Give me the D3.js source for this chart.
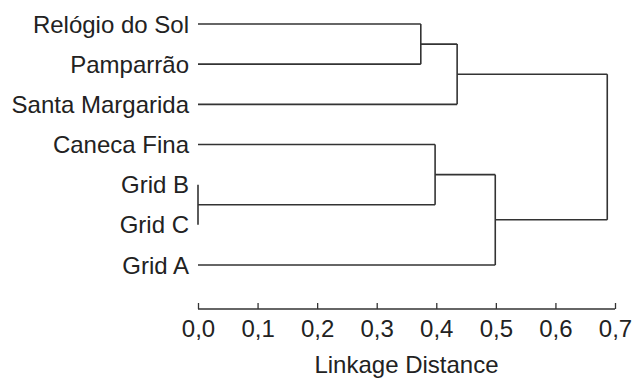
<!DOCTYPE html>
<html>
<head>
<meta charset="utf-8">
<script src="https://cdn.jsdelivr.net/npm/d3@7"></script>
<style>
  html, body { margin: 0; padding: 0; background: #fff; }
  svg { display: block; }
</style>
</head>
<body>
<svg id="chart" width="635" height="378"></svg>
<script>
// Leaves, top to bottom
const leaves = ["Relógio do Sol", "Pamparrão", "Santa Margarida", "Caneca Fina", "Grid B", "Grid C", "Grid A"];
// Merge steps (children refer to leaf names or previous cluster ids)
const clusterIds = ["k1", "k2", "k3", "k4", "k5", "root"];
const clusterLeft = ["Grid B", "Relógio do Sol", "Caneca Fina", "k2", "k3", "k4"];
const clusterRight = ["Grid C", "Pamparrão", "k1", "Santa Margarida", "Grid A", "k5"];
const linkageDistance = [0.0, 0.374, 0.398, 0.435, 0.499, 0.687];
const tickValues = [0, 0.1, 0.2, 0.3, 0.4, 0.5, 0.6, 0.7];
const axisTitle = "Linkage Distance";

const FONT = "'Liberation Sans', Arial, Helvetica, sans-serif";
const FS = 24;
const LINE = "#333";
const TEXT = "#222";

// Build hierarchy
const nodes = {};
leaves.forEach(n => nodes[n] = { name: n, height: 0, children: null });
clusterIds.forEach((id, i) => {
  nodes[id] = { name: id, height: linkageDistance[i], children: [nodes[clusterLeft[i]], nodes[clusterRight[i]]] };
});
const root = d3.hierarchy(nodes["root"]);

const x = d3.scaleLinear().domain([0, 0.7]).range([198, 615]);
const y = d3.scalePoint().domain(leaves).range([24, 265]);

// assign positions
root.eachAfter(d => {
  d.px = x(d.data.height);
  if (!d.children) d.py = y(d.data.name);
  else d.py = d3.mean(d.children, c => c.py);
});

const svg = d3.select("#chart");
const g = svg.append("g")
  .attr("fill", "none")
  .attr("stroke", LINE)
  .attr("stroke-width", 1.6);

root.each(d => {
  if (!d.children) return;
  const ys = d.children.map(c => c.py);
  g.append("line")
    .attr("x1", d.px).attr("x2", d.px)
    .attr("y1", d3.min(ys)).attr("y2", d3.max(ys));
  d.children.forEach(c => {
    g.append("line")
      .attr("x1", c.px).attr("x2", d.px)
      .attr("y1", c.py).attr("y2", c.py);
  });
});

// Leaf labels
svg.append("g").selectAll("text")
  .data(leaves)
  .join("text")
  .attr("x", 189)
  .attr("y", d => y(d))
  .attr("dy", "0.36em")
  .attr("text-anchor", "end")
  .attr("font-family", FONT)
  .attr("font-size", FS)
  .attr("fill", TEXT)
  .text(d => d);

// Axis
const fmt = d3.format(".1f");
const axis = d3.axisBottom(x)
  .tickValues(tickValues)
  .tickSize(-6)
  .tickPadding(10)
  .tickFormat(v => fmt(v).replace(".", ","));
const ag = svg.append("g").attr("transform", "translate(0,309)").call(axis);
ag.select(".domain").attr("d", `M${x(0)},0H${x(0.7)}`).attr("stroke", LINE).attr("stroke-width", 1.3);
ag.selectAll(".tick line").attr("stroke", LINE).attr("stroke-width", 1.3);
ag.selectAll(".tick text")
  .attr("font-family", FONT)
  .attr("font-size", FS)
  .attr("fill", TEXT)
  .attr("y", 28)
  .attr("dy", 0);

svg.append("text")
  .attr("x", (x(0) + x(0.7)) / 2)
  .attr("y", 373)
  .attr("text-anchor", "middle")
  .attr("font-family", FONT)
  .attr("font-size", FS)
  .attr("fill", TEXT)
  .text(axisTitle);
</script>
</body>
</html>
